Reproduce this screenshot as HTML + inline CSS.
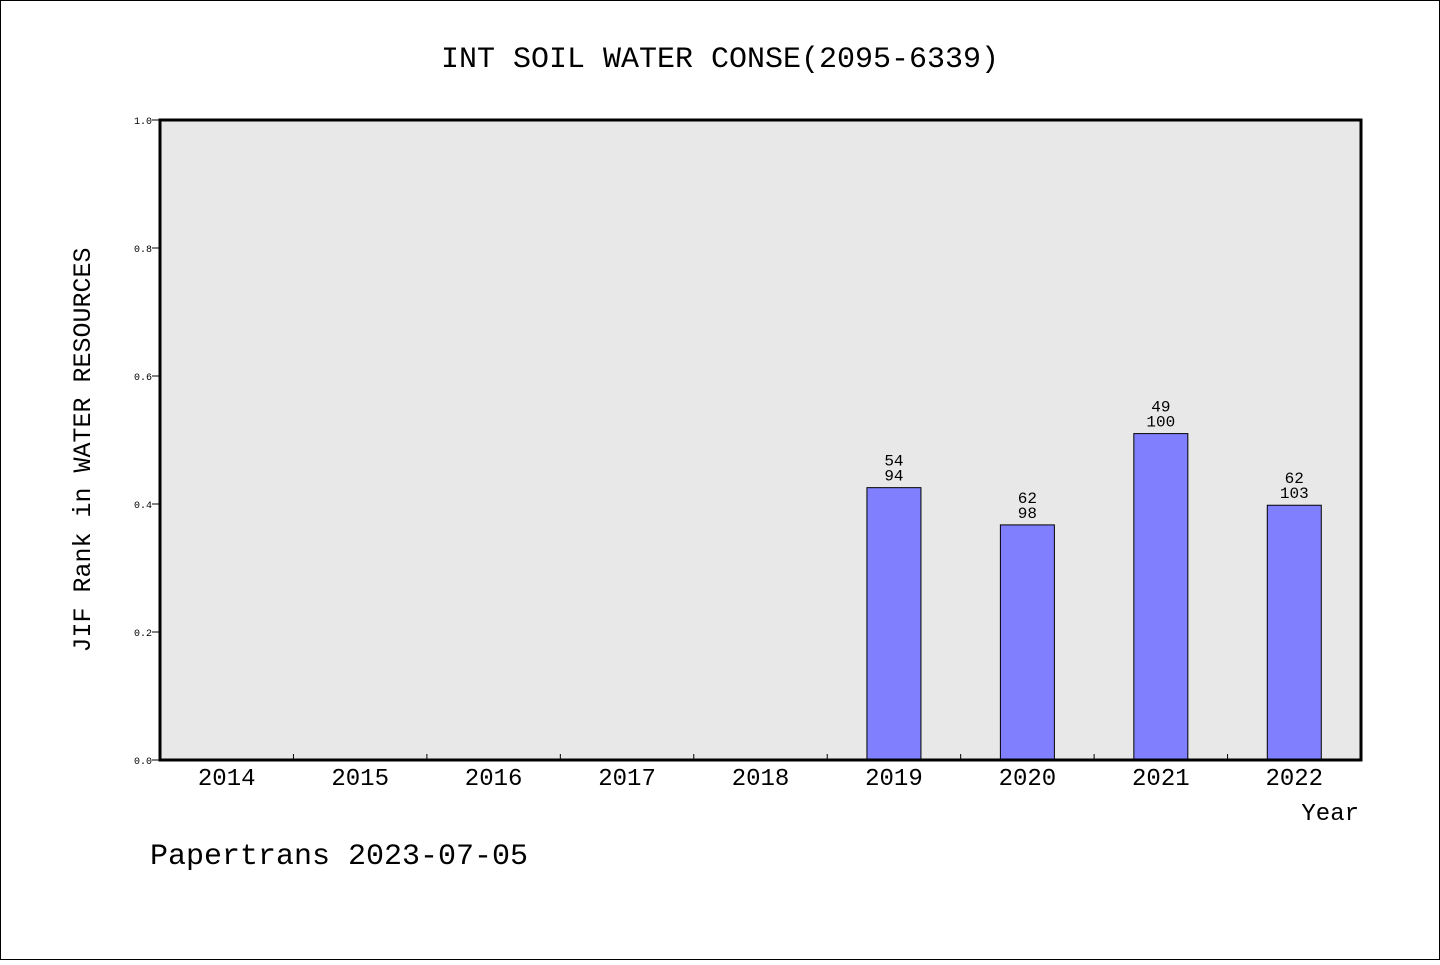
<!DOCTYPE html>
<html><head><meta charset="utf-8"><style>
body{margin:0;background:#fff}
svg text{font-family:"WenQuanYi Zen Hei","Liberation Mono",monospace;fill:#000}
</style></head><body>
<svg width="1440" height="960" xmlns="http://www.w3.org/2000/svg">
<rect x="0.5" y="0.5" width="1439" height="959" fill="#fff" stroke="#000"/>
<text x="720" y="67" font-size="30" text-anchor="middle">INT SOIL WATER CONSE(2095-6339)</text>
<rect x="160" y="120" width="1201" height="640" fill="#e8e8e8"/>
<g id="marks"></g>
<rect x="160" y="120" width="1201" height="640" fill="none" stroke="#000" stroke-width="3"/>
<text transform="translate(90,450) rotate(-90)" font-size="25" text-anchor="middle">JIF Rank in WATER RESOURCES</text>
<text x="1359" y="820" font-size="24" text-anchor="end">Year</text>
<text x="150" y="864" font-size="30">Papertrans 2023-07-05</text>
</svg>
<script>
const years=["2014","2015","2016","2017","2018","2019","2020","2021","2022"];
const ranks=[null,null,null,null,null,54,62,49,62];
const totals=[null,null,null,null,null,94,98,100,103];
const yTicks=[0,0.2,0.4,0.6,0.8,1.0];
const yTickLabels=["0.0","0.2","0.4","0.6","0.8","1.0"];
const ns="http://www.w3.org/2000/svg";
const g=document.getElementById("marks");
const X0=160,W=1201,Y0=760,H=640;
const band=W/years.length;
const xc=i=>X0+band*(i+0.5);
const y=v=>Y0-v*H;
function mk(t,a,txt){const e=document.createElementNS(ns,t);for(const k in a)e.setAttribute(k,a[k]);if(txt!==undefined)e.textContent=txt;g.appendChild(e);return e;}
yTicks.forEach((v,i)=>{
 let l=mk("line",{x1:X0-8,x2:X0,y1:y(v),y2:y(v),stroke:"#000"});
 
 
 let t=mk("text",{x:X0-8,y:y(v)+4,"font-size":10,"text-anchor":"end"},yTickLabels[i]);
 
 
});
years.forEach((yr,i)=>{
 if(i>0){let l=mk("line",{x1:X0+band*i,x2:X0+band*i,y1:Y0,y2:Y0-6,stroke:"#000"});
 
 }
 let t=mk("text",{x:xc(i),y:Y0+25,"font-size":24,"text-anchor":"middle"},yr);
 
 
 if(ranks[i]!=null){
  const v=1-ranks[i]/totals[i];
  let b=mk("rect",{x:xc(i)-27,y:y(v),width:54,height:v*H,fill:"#8080ff",stroke:"#000","stroke-width":1});
  
  
  let t1=mk("text",{x:xc(i),y:y(v)-22,"font-size":16,"text-anchor":"middle"},ranks[i]);
  
  
  let t2=mk("text",{x:xc(i),y:y(v)-7,"font-size":16,"text-anchor":"middle"},totals[i]);
  
  
 }
});
</script>
</body></html>
